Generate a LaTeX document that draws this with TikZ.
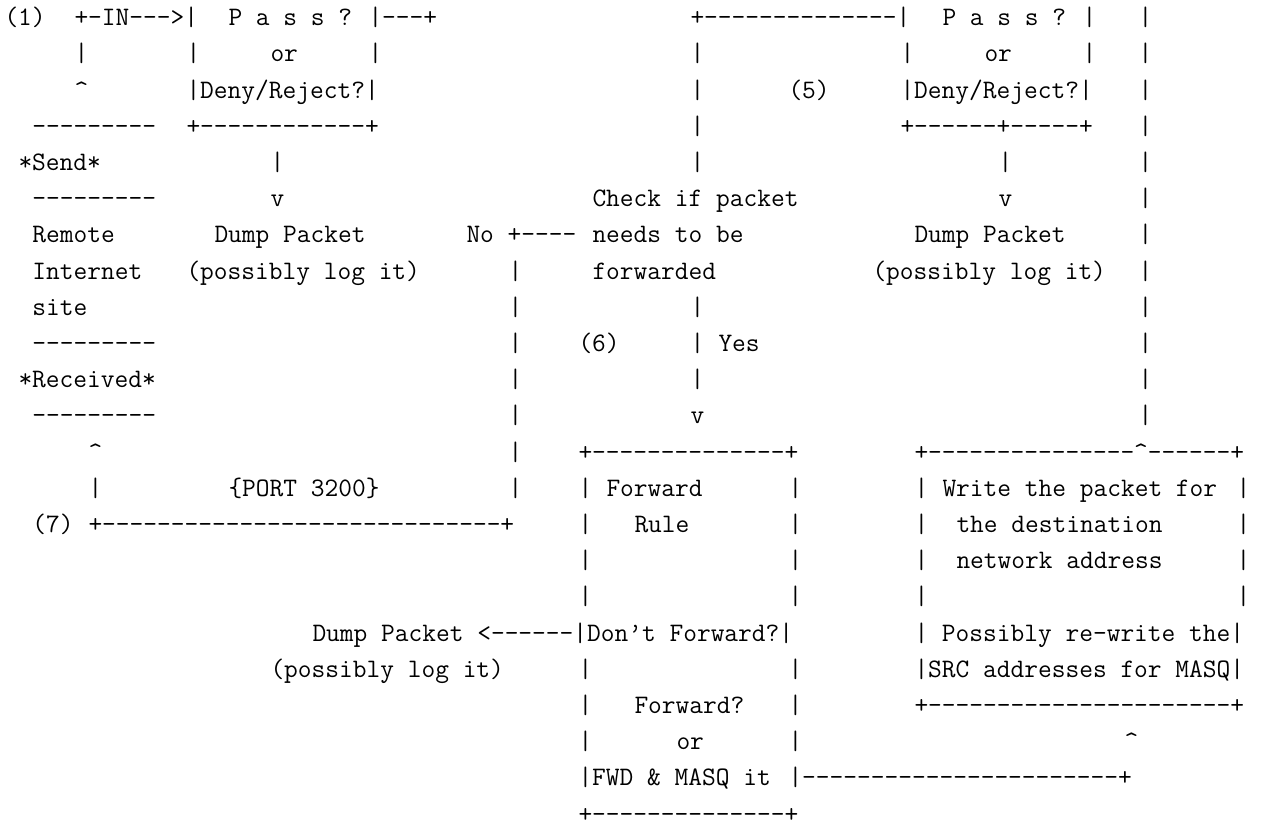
\documentclass[tikz,border=0pt]{standalone}
\usepackage{fontspec}
\newcommand\asc[3]{\node[txt] (r#1c#2) at ({4.5+14*#2},{17.5+36.2*#1}) {#3};}
\begin{document}
\begin{tikzpicture}[x=0.5pt,y=-0.5pt,
  txt/.style={anchor=west, inner sep=0pt, outer sep=0pt, text height=8.15pt, text depth=0pt,
              font=\fontsize{13.333pt}{16pt}\selectfont\ttfamily}]
\fill[white] (0,0) rectangle (1263,827);
\useasboundingbox (0,0) rectangle (1263,827);
% row 0
\asc{0}{0}{(1)}
\asc{0}{5}{+-IN--->|}
\asc{0}{16}{P a s s ?}
\asc{0}{26}{|---+}
\asc{0}{49}{+--------------|}
\asc{0}{67}{P a s s ?}
\asc{0}{77}{|}
\asc{0}{81}{|}
% row 1
\asc{1}{5}{|}
\asc{1}{13}{|}
\asc{1}{19}{or}
\asc{1}{26}{|}
\asc{1}{49}{|}
\asc{1}{64}{|}
\asc{1}{70}{or}
\asc{1}{77}{|}
\asc{1}{81}{|}
% row 2
\asc{2}{5}{\textasciicircum}
\asc{2}{13}{|Deny/Reject?|}
\asc{2}{49}{|}
\asc{2}{56}{(5)}
\asc{2}{64}{|Deny/Reject?|}
\asc{2}{81}{|}
% row 3
\asc{3}{2}{---------}
\asc{3}{13}{+------------+}
\asc{3}{49}{|}
\asc{3}{64}{+------+-----+}
\asc{3}{81}{|}
% row 4
\asc{4}{1}{*Send*}
\asc{4}{19}{|}
\asc{4}{49}{|}
\asc{4}{71}{|}
\asc{4}{81}{|}
% row 5
\asc{5}{2}{---------}
\asc{5}{19}{v}
\asc{5}{42}{Check if packet}
\asc{5}{71}{v}
\asc{5}{81}{|}
% row 6
\asc{6}{2}{Remote}
\asc{6}{15}{Dump Packet}
\asc{6}{33}{No +----}
\asc{6}{42}{needs to be}
\asc{6}{65}{Dump Packet}
\asc{6}{81}{|}
% row 7
\asc{7}{2}{Internet}
\asc{7}{13}{(possibly log it)}
\asc{7}{36}{|}
\asc{7}{42}{forwarded}
\asc{7}{62}{(possibly log it)}
\asc{7}{81}{|}
% row 8
\asc{8}{2}{site}
\asc{8}{36}{|}
\asc{8}{49}{|}
\asc{8}{81}{|}
% row 9
\asc{9}{2}{---------}
\asc{9}{36}{|}
\asc{9}{41}{(6)}
\asc{9}{49}{|}
\asc{9}{51}{Yes}
\asc{9}{81}{|}
% row 10
\asc{10}{1}{*Received*}
\asc{10}{36}{|}
\asc{10}{49}{|}
\asc{10}{81}{|}
% row 11
\asc{11}{2}{---------}
\asc{11}{36}{|}
\asc{11}{49}{v}
\asc{11}{81}{|}
% row 12
\asc{12}{6}{\textasciicircum}
\asc{12}{36}{|}
\asc{12}{41}{+--------------+}
\asc{12}{65}{+---------------\textasciicircum------+}
% row 13
\asc{13}{6}{|}
\asc{13}{16}{\{PORT 3200\}}
\asc{13}{36}{|}
\asc{13}{41}{|}
\asc{13}{43}{Forward}
\asc{13}{56}{|}
\asc{13}{65}{|}
\asc{13}{67}{Write the packet for}
\asc{13}{88}{|}
% row 14
\asc{14}{2}{(7)}
\asc{14}{6}{+-----------------------------+}
\asc{14}{41}{|}
\asc{14}{45}{Rule}
\asc{14}{56}{|}
\asc{14}{65}{|}
\asc{14}{68}{the destination}
\asc{14}{88}{|}
% row 15
\asc{15}{41}{|}
\asc{15}{56}{|}
\asc{15}{65}{|}
\asc{15}{68}{network address}
\asc{15}{88}{|}
% row 16
\asc{16}{41}{|}
\asc{16}{56}{|}
\asc{16}{65}{|}
\asc{16}{88}{|}
% row 17
\asc{17}{22}{Dump Packet <------|Don’t Forward?|}
\asc{17}{65}{| Possibly re-write the|}
% row 18
\asc{18}{19}{(possibly log it)}
\asc{18}{41}{|}
\asc{18}{56}{|}
\asc{18}{65}{|SRC addresses for MASQ|}
% row 19
\asc{19}{41}{|}
\asc{19}{45}{Forward?}
\asc{19}{56}{|}
\asc{19}{65}{+----------------------+}
% row 20
\asc{20}{41}{|}
\asc{20}{48}{or}
\asc{20}{56}{|}
\asc{20}{80}{\textasciicircum}
% row 21
\asc{21}{41}{|FWD \& MASQ it}
\asc{21}{56}{|-----------------------+}
% row 22
\asc{22}{41}{+--------------+}
\end{tikzpicture}
\end{document}
